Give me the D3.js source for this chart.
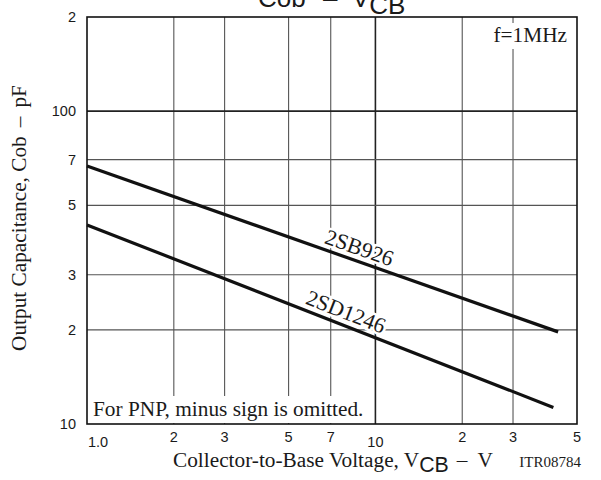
<!DOCTYPE html>
<html><head><meta charset="utf-8">
<script src="https://cdn.jsdelivr.net/npm/d3@7"></script>
<style>
body{margin:0;background:#fff;}
svg{display:block;}
</style></head>
<body>
<svg id="chart" width="601" height="480"></svg>
<script>
const xTicks = [1, 2, 3, 5, 7, 10, 20, 30, 50];
const xTickLabels = ["1.0", "2", "3", "5", "7", "10", "2", "3", "5"];
const yTicks = [10, 20, 30, 50, 70, 100, 200];
const yTickLabels = ["10", "2", "3", "5", "7", "100", "2"];
const seriesNames = ["2SB926", "2SD1246"];
const sb926V = [1, 43];
const sb926C = [66.8, 19.7];
const sd1246V = [1, 41.4];
const sd1246C = [43.3, 11.3];

const svg = d3.select("#chart");
const L = 87, R = 577, T = 17, B = 424;
const x = d3.scaleLog().domain([1, 50]).range([L, R]);
const y = d3.scaleLog().domain([10, 200]).range([B, T]);
const serif = "'Liberation Serif', 'Times New Roman', serif";
const sans = "'Liberation Sans', Arial, sans-serif";
const ink = "#1a1a1a";

// grid
const g = svg.append("g");
g.selectAll("line.vx").data(xTicks.filter(v => v > 1 && v < 50)).enter().append("line")
  .attr("x1", d => x(d)).attr("x2", d => x(d)).attr("y1", T).attr("y2", B)
  .attr("stroke", d => d === 10 ? "#222" : "#555").attr("stroke-width", d => d === 10 ? 1.6 : 1.1);
g.selectAll("line.hy").data(yTicks.filter(v => v > 10 && v < 200)).enter().append("line")
  .attr("y1", d => y(d)).attr("y2", d => y(d)).attr("x1", L).attr("x2", R)
  .attr("stroke", d => d === 100 ? "#222" : "#555").attr("stroke-width", d => d === 100 ? 1.6 : 1.1);

// notes with white background
const note1 = svg.append("text").attr("x", 93).attr("y", 416)
  .attr("font-family", serif).attr("font-size", 21.3).attr("fill", ink)
  .text("For PNP, minus sign is omitted.");
const nb = note1.node().getBBox();
svg.insert("rect", "text").attr("x", L + 1).attr("y", nb.y - 1).attr("width", nb.x + nb.width - L + 2).attr("height", B - nb.y)
  .attr("fill", "#fff");
const note2 = svg.append("text").attr("x", 567).attr("y", 42).attr("text-anchor", "end")
  .attr("font-family", serif).attr("font-size", 21.3).attr("fill", ink).text("f=1MHz");
const fb = note2.node().getBBox();
svg.insert("rect", "text").attr("x", fb.x - 3).attr("y", fb.y).attr("width", fb.width + 6).attr("height", fb.height + 2)
  .attr("fill", "#fff");

// frame
svg.append("rect").attr("x", L).attr("y", T).attr("width", R - L).attr("height", B - T)
  .attr("fill", "none").attr("stroke", "#111").attr("stroke-width", 1.6);

// series lines
const line = d3.line().x(d => x(d[0])).y(d => y(d[1]));
const data = [d3.zip(sb926V, sb926C), d3.zip(sd1246V, sd1246C)];
svg.selectAll("path.s").data(data).enter().append("path")
  .attr("d", line).attr("fill", "none").attr("stroke", "#111").attr("stroke-width", 3.2);

// series labels along lines (label centre voltage)
const labelV = [8.5, 7.6];
data.forEach((pts, i) => {
  const p0 = [x(pts[0][0]), y(pts[0][1])], p1 = [x(pts[1][0]), y(pts[1][1])];
  const ang = Math.atan2(p1[1] - p0[1], p1[0] - p0[0]) * 180 / Math.PI;
  const t = (Math.log(labelV[i]) - Math.log(pts[0][0])) / (Math.log(pts[1][0]) - Math.log(pts[0][0]));
  const cx = p0[0] + t * (p1[0] - p0[0]), cy = p0[1] + t * (p1[1] - p0[1]);
  svg.append("text").attr("transform", `translate(${cx},${cy}) rotate(${ang}) translate(0,-6)`)
    .attr("text-anchor", "middle").attr("font-family", serif).attr("font-size", 22).attr("fill", ink)
    .attr("stroke", "#fff").attr("stroke-width", 5).attr("paint-order", "stroke")
    .text(seriesNames[i]);
});

// tick labels
svg.selectAll("text.xt").data(xTicks).enter().append("text")
  .attr("x", (d, i) => i === 0 ? x(d) + 11 : x(d))
  .attr("y", (d, i) => (i === 0 || i === 5) ? 447 : 442)
  .attr("text-anchor", "middle").attr("font-family", sans).attr("font-size", 14.5).attr("fill", ink)
  .text((d, i) => xTickLabels[i]);
svg.selectAll("text.yt").data(yTicks).enter().append("text")
  .attr("x", 76).attr("y", d => y(d) + 5)
  .attr("text-anchor", "end").attr("font-family", sans).attr("font-size", 14.5).attr("fill", ink)
  .text((d, i) => yTickLabels[i]);

// title
const tt = svg.append("text").attr("x", 258).attr("y", 7).attr("font-family", sans).attr("font-size", 26).attr("fill", ink);
tt.append("tspan").text("Cob");
tt.append("tspan").attr("x", 323).text("–");
tt.append("tspan").attr("x", 352).text("V");
tt.append("tspan").attr("dy", 7).text("CB");

// x axis title
const xt = svg.append("text").attr("x", 173).attr("y", 467).attr("font-family", serif).attr("font-size", 21.3).attr("fill", ink);
xt.append("tspan").text("Collector-to-Base Voltage, V");
xt.append("tspan").attr("dy", 5).attr("font-family", sans).text("CB");
xt.append("tspan").attr("dy", -5).attr("dx", 8).text("–");
xt.append("tspan").attr("dx", 10).text("V");
svg.append("text").attr("x", 581).attr("y", 467).attr("text-anchor", "end").attr("font-family", serif)
  .attr("font-size", 15).attr("fill", ink).text("ITR08784");

// y axis title
const yt = svg.append("text").attr("transform", "translate(26,218) rotate(-90)").attr("text-anchor", "middle")
  .attr("font-family", serif).attr("font-size", 21.3).attr("fill", ink);
yt.append("tspan").text("Output Capacitance, Cob");
yt.append("tspan").attr("dx", 9).text("–");
yt.append("tspan").attr("dx", 9).text("pF");
</script>
</body></html>
